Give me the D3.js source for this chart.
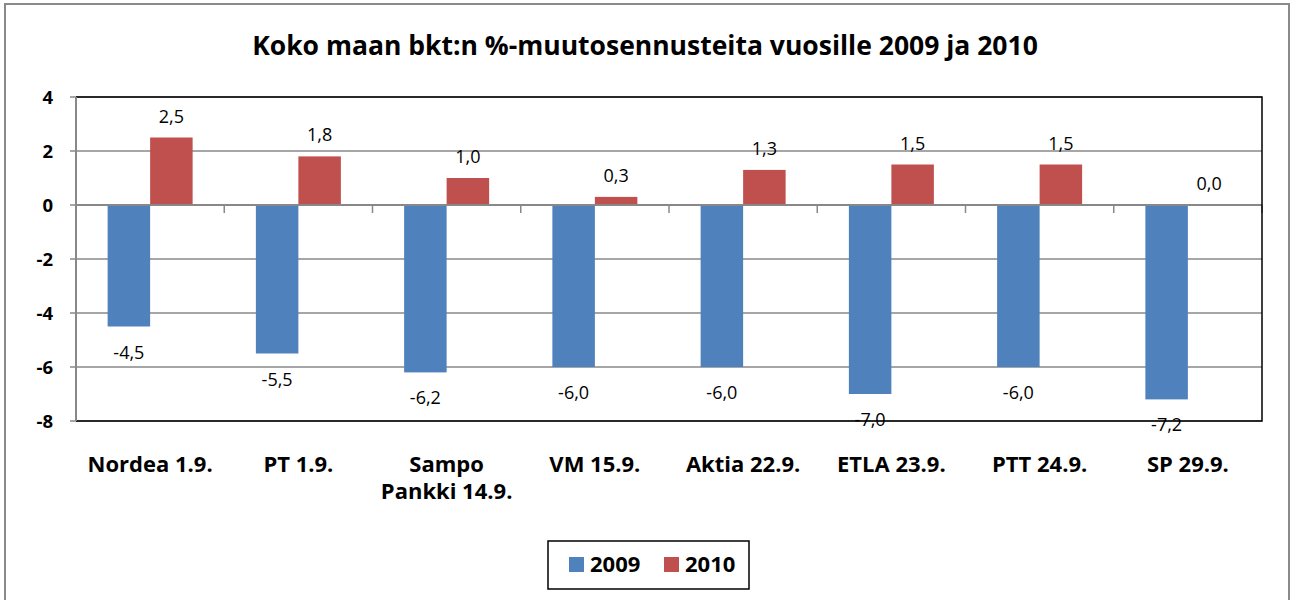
<!DOCTYPE html>
<html><head><meta charset="utf-8">
<script src="https://cdn.jsdelivr.net/npm/d3@7"></script>
<style>body{margin:0;background:#fff;} svg{display:block;}</style>
</head><body>
<script>
const categories = [["Nordea 1.9."],["PT 1.9."],["Sampo","Pankki 14.9."],["VM 15.9."],["Aktia 22.9."],["ETLA 23.9."],["PTT 24.9."],["SP 29.9."]];
const series2009 = [-4.5,-5.5,-6.2,-6.0,-6.0,-7.0,-6.0,-7.2];
const series2010 = [2.5,1.8,1.0,0.3,1.3,1.5,1.5,0.0];
const seriesNames = ["2009","2010"];
const yTicks = [4,2,0,-2,-4,-6,-8];
const colors = ["#4F81BD","#C0504D"];
const title = "Koko maan bkt:n %-muutosennusteita vuosille 2009 ja 2010";

const W=1291,H=600;
const svg=d3.select("body").append("svg").attr("width",W).attr("height",H);
const font="'Open Sans', sans-serif";
svg.append("rect").attr("x",5).attr("y",4).attr("width",1284).attr("height",600).attr("fill","#fff").attr("stroke","#8a8a8a").attr("stroke-width",2);

svg.append("text").attr("x",645).attr("y",55).attr("text-anchor","middle").attr("font-family",font).attr("font-weight","bold").attr("font-size",26.5).text(title);

const pLeft=76,pRight=1262,pTop=97,pBottom=421;
const x=d3.scaleBand().domain(d3.range(categories.length)).range([pLeft,pRight]);
const y=d3.scaleLinear().domain([-8,4]).range([pBottom,pTop]);
const bw=42.5;
const fmt=d=>d3.format(".1f")(d).replace("−","-").replace(".",",");

// gridlines
svg.append("g").selectAll("line").data(yTicks).join("line")
 .attr("x1",pLeft-6).attr("x2",pRight).attr("y1",d=>y(d)).attr("y2",d=>y(d))
 .attr("stroke","#888").attr("stroke-width",1.5);
// y labels
const yAxis=d3.axisLeft(y).tickValues(yTicks).tickSize(0).tickPadding(0).tickFormat(d=>String(d).replace("−","-"));
const ya=svg.append("g").attr("transform",`translate(${pLeft-23},0)`).call(yAxis);
ya.select(".domain").remove();
ya.selectAll("text").attr("font-family",font).attr("font-weight","bold").attr("font-size",18.5).attr("fill","#000").attr("text-anchor","end").attr("dy","0.36em");

// bars
const data=[series2009,series2010];
data.forEach((s,si)=>{
  svg.append("g").selectAll("rect").data(s).join("rect")
   .attr("x",(d,i)=>x(i)+x.bandwidth()/2-bw+si*bw)
   .attr("width",bw)
   .attr("y",d=>y(Math.max(0,d)))
   .attr("height",d=>Math.abs(y(d)-y(0)))
   .attr("fill",colors[si]);
  svg.append("g").selectAll("text").data(s).join("text")
   .attr("x",(d,i)=>x(i)+x.bandwidth()/2-bw/2+si*bw)
   .attr("y",d=>si===1? y(d)-15 : y(d)+32)
   .attr("text-anchor","middle").attr("font-family",font).attr("font-size",18).attr("fill","#000")
   .text(fmt);
});

// zero line and ticks
svg.append("line").attr("x1",pLeft).attr("x2",pRight).attr("y1",y(0)).attr("y2",y(0)).attr("stroke","#888").attr("stroke-width",2);
svg.append("g").selectAll("line").data(d3.range(1,categories.length+1)).join("line")
 .attr("x1",i=>pLeft+i*x.bandwidth()).attr("x2",i=>pLeft+i*x.bandwidth())
 .attr("y1",y(0)).attr("y2",y(0)+8).attr("stroke","#888").attr("stroke-width",1.5);

// plot border
svg.append("path").attr("d",`M${pLeft},${pTop}H${pRight}V${pBottom}H${pLeft}`).attr("fill","none").attr("stroke","#000").attr("stroke-width",1.5);
svg.append("line").attr("x1",pLeft).attr("x2",pLeft).attr("y1",pTop).attr("y2",pBottom).attr("stroke","#888").attr("stroke-width",2);

// category labels
const cg=svg.append("g");
categories.forEach((lines,i)=>{
  const t=cg.append("text").attr("x",x(i)+x.bandwidth()/2).attr("y",472).attr("text-anchor","middle")
   .attr("font-family",font).attr("font-weight","bold").attr("font-size",22).attr("fill","#000");
  lines.forEach((l,j)=>t.append("tspan").attr("x",x(i)+x.bandwidth()/2).attr("dy",j===0?0:27).text(l));
});

// legend
svg.append("rect").attr("x",548).attr("y",541).attr("width",201).attr("height",48).attr("fill","#fff").attr("stroke","#000").attr("stroke-width",1.5);
const lx=[569,664];
seriesNames.forEach((n,i)=>{
  svg.append("rect").attr("x",lx[i]).attr("y",557).attr("width",15).attr("height",15).attr("fill",colors[i]);
  svg.append("text").attr("x",lx[i]+21).attr("y",572).attr("font-family",font).attr("font-weight","bold").attr("font-size",22).text(n);
});
</script>
</body></html>
